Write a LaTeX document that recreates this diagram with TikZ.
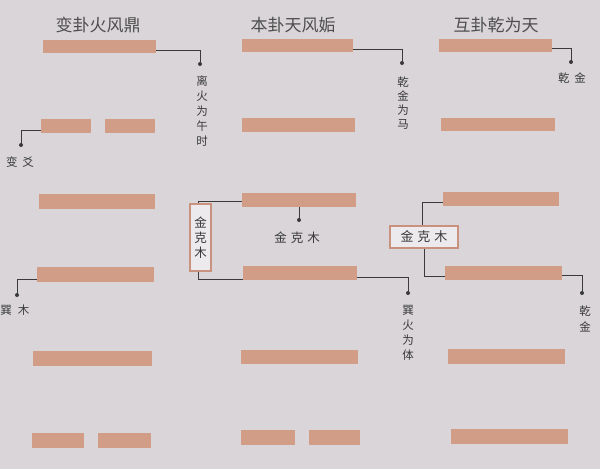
\documentclass[tikz,border=0pt]{standalone}
\usepackage{fontspec}
\setmainfont{Noto Sans CJK SC}
\definecolor{bg}{HTML}{D9D5D8}
\definecolor{barc}{HTML}{D19D87}
\definecolor{ink}{HTML}{3A3A3A}
\definecolor{boxline}{HTML}{C9927E}
\definecolor{boxfill}{HTML}{ECEAEC}
\begin{document}
\begin{tikzpicture}[x=1pt,y=-1pt,
  bar/.style={fill=barc,draw=none,inner sep=0pt,minimum height=14pt},
  title/.style={font=\fontsize{17}{20}\selectfont,text=ink!90,inner sep=0pt},
  conn/.style={draw=ink,line width=0.9pt},
  dotend/.style={fill=ink},
  vlab/.style={font=\fontsize{11.5}{15}\selectfont,text=ink,align=center,inner sep=0pt,anchor=north},
  hlab/.style={font=\fontsize{11.5}{13}\selectfont,text=ink,inner sep=0pt},
  kebox/.style={draw=boxline,fill=boxfill,line width=1.1pt,inner sep=0pt,text=ink,align=center}
]
\useasboundingbox[fill=bg] (0,0) rectangle (600,469);

% titles
\node[title] (t1) at (98,25) {变卦火风鼎};
\node[title] (t2) at (293,25) {本卦天风姤};
\node[title] (t3) at (496,25) {互卦乾为天};

% column 1
\node[bar,minimum width=113pt,minimum height=13pt] (a1) at (99.5,46.5) {};
\node[bar,minimum width=50pt] (a2L) at (66,126) {};
\node[bar,minimum width=50pt] (a2R) at (130,126) {};
\node[bar,minimum width=116pt,minimum height=15pt] (a3) at (97,201.5) {};
\node[bar,minimum width=117pt,minimum height=15pt] (a4) at (95.5,274.5) {};
\node[bar,minimum width=119pt,minimum height=15pt] (a5) at (92.5,358.5) {};
\node[bar,minimum width=52pt,minimum height=15pt] (a6L) at (58,440.5) {};
\node[bar,minimum width=53pt,minimum height=15pt] (a6R) at (124.5,440.5) {};

% column 2
\node[bar,minimum width=111pt,minimum height=13pt] (b1) at (297.5,45.5) {};
\node[bar,minimum width=113pt] (b2) at (298.5,125) {};
\node[bar,minimum width=114pt] (b3) at (299,200) {};
\node[bar,minimum width=114pt] (b4) at (300,273) {};
\node[bar,minimum width=117pt] (b5) at (299.5,357) {};
\node[bar,minimum width=54pt,minimum height=15pt] (b6L) at (268,437.5) {};
\node[bar,minimum width=51pt,minimum height=15pt] (b6R) at (334.5,437.5) {};

% column 3
\node[bar,minimum width=113pt,minimum height=13pt] (c1) at (495.5,45.5) {};
\node[bar,minimum width=114pt,minimum height=13pt] (c2) at (498,124.5) {};
\node[bar,minimum width=116pt] (c3) at (501,199) {};
\node[bar,minimum width=117pt] (c4) at (503.5,273) {};
\node[bar,minimum width=117pt,minimum height=15pt] (c5) at (506.5,356.5) {};
\node[bar,minimum width=117pt,minimum height=15pt] (c6) at (509.5,436.5) {};

% column 1 connectors and labels
\coordinate (p1) at (200,64);
\draw[conn] ([yshift=3pt]a1.south east) -| (p1);
\fill[dotend] (p1) circle (2pt);
\node[vlab] (l1) at (202,76) {离\\火\\为\\午\\时};

\coordinate (p2) at (21,145);
\draw[conn] ([yshift=3pt]a2L.south west) -| (p2);
\fill[dotend] (p2) circle (2pt);
\node[hlab] (l2) at (20,162) {变\hspace{5pt}爻};

\coordinate (p3) at (17,295);
\draw[conn] ([yshift=3pt]a4.south west) -| (p3);
\fill[dotend] (p3) circle (2pt);
\node[hlab] (l3) at (15,310) {巽\hspace{6pt}木};

% column 2 connectors and labels
\coordinate (p4) at (402,63);
\draw[conn] ([yshift=3pt]b1.south east) -| (p4);
\fill[dotend] (p4) circle (2pt);
\node[vlab,font=\fontsize{11.5}{14}\selectfont] (l4) at (403,77) {乾\\金\\为\\马};

\coordinate (p5) at (299,220);
\draw[conn] (b3.south) -- (p5);
\fill[dotend] (p5) circle (2pt);
\node[hlab,font=\fontsize{12.5}{14}\selectfont] (l5) at (297,238) {金\hspace{4pt}克\hspace{4pt}木};

\node[kebox,minimum width=21pt,minimum height=67pt,font=\fontsize{12.5}{15}\selectfont] (bx) at (200.5,237.5) {金\\克\\木};
\draw[conn] ([xshift=-2.5pt]bx.north) |- ([yshift=-1pt]b3.west);
\draw[conn] ([xshift=-2.5pt]bx.south) |- ([yshift=1pt]b4.south west);

\coordinate (p6) at (408,293);
\draw[conn] ([yshift=3pt]b4.south east) -| (p6);
\fill[dotend] (p6) circle (2pt);
\node[vlab] (l6) at (408,305) {巽\\火\\为\\体};

% column 3 connectors and labels
\coordinate (p7) at (571,62);
\draw[conn] ([yshift=4pt]c1.south east) -| (p7);
\fill[dotend] (p7) circle (2pt);
\node[hlab] (l7) at (572,78) {乾\hspace{5pt}金};

\node[kebox,minimum width=68pt,minimum height=22pt,font=\fontsize{13}{15}\selectfont] (hb) at (424,237) {金\hspace{4pt}克\hspace{4pt}木};
\draw[conn] ([xshift=-2pt]hb.north) |- ([yshift=-3pt]c3.west);
\draw[conn] (hb.south) |- ([yshift=4pt]c4.south west);

\coordinate (p8) at (582,293);
\draw[conn] ([yshift=5pt]c4.south east) -| (p8);
\fill[dotend] (p8) circle (2pt);
\node[vlab,font=\fontsize{11.5}{16}\selectfont] (l8) at (585,306) {乾\\金};
\end{tikzpicture}
\end{document}
